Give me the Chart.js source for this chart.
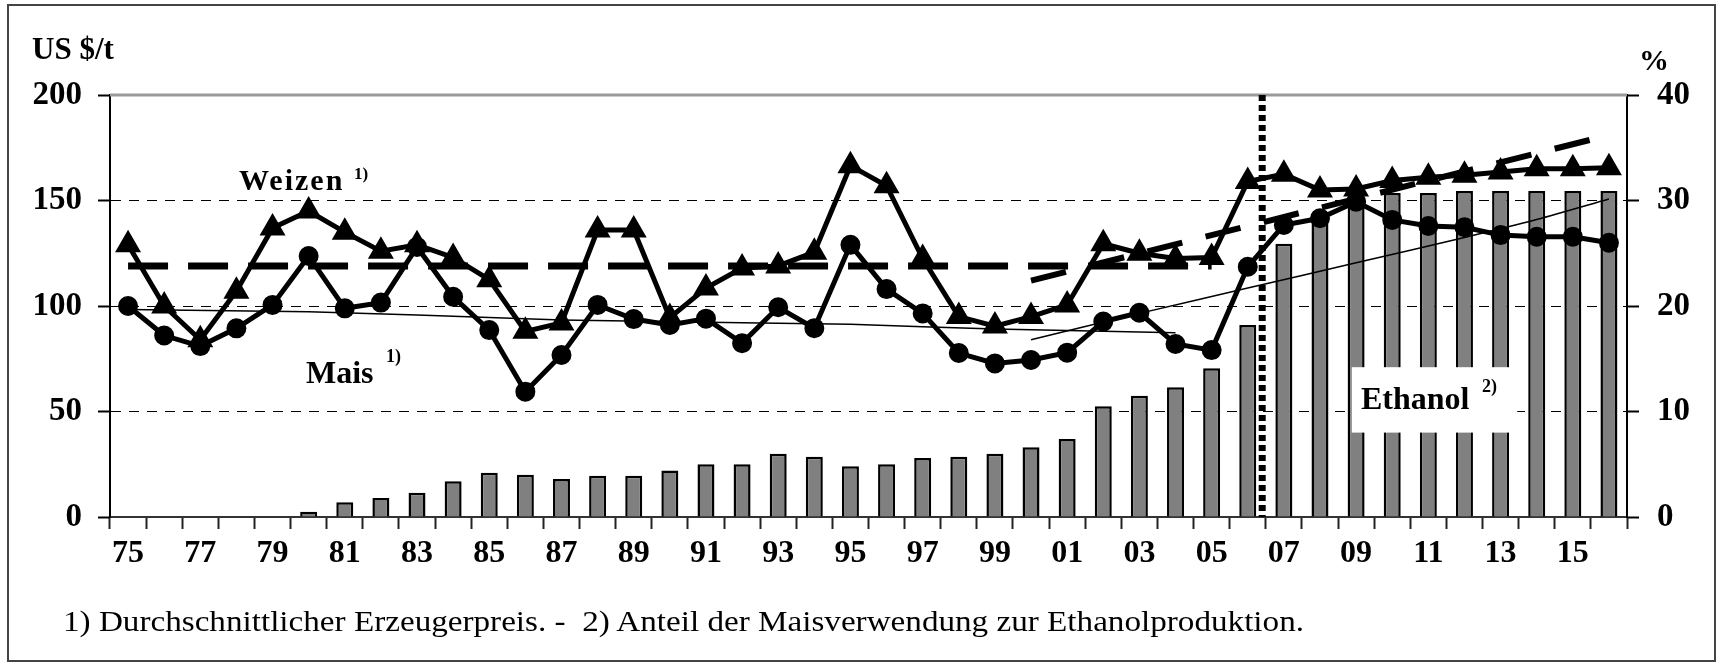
<!DOCTYPE html>
<html>
<head>
<meta charset="utf-8">
<script src="https://cdn.jsdelivr.net/npm/chart.js@4.4.1/dist/chart.umd.min.js"></script>
<style>
    html, body { margin: 0; padding: 0; background: #fff; }
    #wrap { position: relative; width: 1721px; height: 664px; overflow: hidden;
            font-family: "Liberation Serif", "Times New Roman", serif; color: #000; }
    #frame { position: absolute; left: 7px; top: 4px; width: 1705px; height: 654px; border: 2px solid #444; }
    canvas { position: absolute; left: 0; top: 0; }
    .lbl { position: absolute; white-space: nowrap; line-height: 1; font-weight: bold; }
    #note { position: absolute; left: 63px; top: 607px; white-space: nowrap; line-height: 1;
            font-size: 29px; transform-origin: left top; }
</style>
</head>
<body>
<div id="wrap">
    <div id="frame"></div>
    <canvas id="preisChart" width="1721" height="664"></canvas>
    <div class="lbl" style="left:32px;top:33px;font-size:31px;">US $/t</div>
    <div class="lbl" style="left:1639px;top:45px;font-size:30px;">%</div>
    <div class="lbl" style="left:239px;top:165px;font-size:30px;letter-spacing:2px;">Weizen</div>
    <div class="lbl" style="left:354px;top:165px;font-size:17px;">1)</div>
    <div class="lbl" style="left:306px;top:356px;font-size:32px;">Mais</div>
    <div class="lbl" style="left:386px;top:347px;font-size:18px;">1)</div>
    <div class="lbl" style="left:1361px;top:382px;font-size:32px;">Ethanol</div>
    <div class="lbl" style="left:1482px;top:377px;font-size:18px;">2)</div>
    <div id="note">1) Durchschnittlicher Erzeugerpreis. -&nbsp; 2) Anteil der Maisverwendung zur Ethanolproduktion.</div>
</div>
<script>
// Jahre 1975 - 2016
const jahre = ['75', '76', '77', '78', '79', '80', '81', '82', '83', '84',
    '85', '86', '87', '88', '89', '90', '91', '92', '93', '94',
    '95', '96', '97', '98', '99', '00', '01', '02', '03', '04',
    '05', '06', '07', '08', '09', '10', '11', '12', '13', '14', '15', '16'];

// Erzeugerpreise US$/t
const weizen = [129, 100, 84, 107, 137, 145, 135, 126, 129, 123,
    112.5, 88, 92, 136, 136, 94.5, 108.5, 118, 119, 125.5,
    166.5, 157, 122.5, 95, 90.5, 95, 100.5, 129.5, 125, 122.5,
    123, 159, 162.5, 155, 155.5, 159.5, 161, 162, 163.5, 165, 165, 165.5];

const mais = [100, 86, 81, 89.4, 100.5, 123.7, 98.9, 101.6, 128, 104.4,
    88.6, 59.4, 76.8, 100.5, 93.8, 91, 94, 82.4, 99.4, 89.5,
    129, 108, 96.5, 77.7, 72.8, 74.4, 77.9, 92.6, 96.8, 82,
    79.1, 118.6, 138.4, 141.6, 149.4, 140.8, 137.9, 137.3, 133.6, 132.8, 132.8, 130];

// Anteil Ethanol an Maisverwendung in %
const ethanol = [null, null, null, null, null, 0.5, 1.4, 1.8, 2.3, 3.4,
    4.2, 4.0, 3.6, 3.9, 3.9, 4.4, 5.0, 5.0, 6.0, 5.7,
    4.8, 5.0, 5.6, 5.7, 6.0, 6.6, 7.4, 10.5, 11.5, 12.3,
    14.1, 18.2, 25.9, 28.5, 30.2, 30.7, 30.7, 30.9, 30.9, 30.9, 30.9, 30.9];

const weizenMittel = {'75': 119, '05': 119};
const weizenTrend = {'00': 112, '16': 181};
const maisTrendAlt = {'75': 98.3, '80': 97.3, '83': 95.7, '87': 93.4, '92': 92.1,
    '95': 91.3, '97': 90.2, '99': 89.1, '04': 87.3};
const maisTrendNeu = {'00': 84, '03': 96.5, '06': 108.5, '09': 120.5, '12': 132.5,
    '14': 141, '16': 150.7};

const bruchNach = '06';

function reihe(punkte) {
    return jahre.map(j => (j in punkte ? punkte[j] : null));
}

const schrift = '"Liberation Serif", "Times New Roman", serif';

const extras = {
    id: 'extras',
    beforeDatasetsDraw(chart) {
        const {ctx, chartArea: a} = chart;
        ctx.save();
        ctx.strokeStyle = '#9a9a9a';
        ctx.lineWidth = 3;
        ctx.beginPath();
        ctx.moveTo(a.left, a.top);
        ctx.lineTo(a.right, a.top);
        ctx.stroke();
        ctx.restore();
    },
    afterDatasetsDraw(chart) {
        const {ctx, chartArea: a, scales: {x, y2}} = chart;
        const step = x.getPixelForValue(1) - x.getPixelForValue(0);

        // Kasten fuer Beschriftung Ethanol
        const bx1 = x.getPixelForValue(jahre.indexOf('09')) - 0.12 * step;
        const bx2 = x.getPixelForValue(jahre.indexOf('13')) + 0.46 * step;
        const by1 = y2.getPixelForValue(14.2);
        const by2 = y2.getPixelForValue(8.0);
        ctx.save();
        ctx.fillStyle = '#fff';
        ctx.fillRect(bx1, by1, bx2 - bx1, by2 - by1);

        // gepunktete Linie 2006/07
        const px = x.getPixelForValue(jahre.indexOf(bruchNach)) + 0.4 * step;
        ctx.strokeStyle = '#000';
        ctx.lineWidth = 7;
        ctx.setLineDash([6, 4]);
        ctx.beginPath();
        ctx.moveTo(px, a.top);
        ctx.lineTo(px, a.bottom);
        ctx.stroke();
        ctx.restore();
    }
};

const ctx = document.getElementById('preisChart').getContext('2d');
new Chart(ctx, {
    type: 'bar',
    data: {
        labels: jahre,
        datasets: [
            {
                type: 'line',
                label: 'Weizen',
                data: weizen,
                borderColor: '#000',
                borderWidth: 5,
                pointStyle: 'triangle',
                pointRadius: 10,
                pointBackgroundColor: '#000',
                pointBorderColor: '#000',
                tension: 0,
                yAxisID: 'y',
                order: 1
            },
            {
                type: 'line',
                label: 'Mais',
                data: mais,
                borderColor: '#000',
                borderWidth: 5,
                pointStyle: 'circle',
                pointRadius: 7.5,
                pointBackgroundColor: '#000',
                pointBorderColor: '#000',
                tension: 0,
                yAxisID: 'y',
                order: 2
            },
            {
                type: 'line',
                label: 'Weizen Mittel',
                data: reihe(weizenMittel),
                borderColor: '#000',
                borderWidth: 7,
                borderDash: [40, 20],
                borderCapStyle: 'butt',
                pointRadius: 0,
                spanGaps: true,
                yAxisID: 'y',
                order: 3
            },
            {
                type: 'line',
                label: 'Weizen Trend',
                data: reihe(weizenTrend),
                borderColor: '#000',
                borderWidth: 6,
                borderDash: [36, 24],
                pointRadius: 0,
                spanGaps: true,
                yAxisID: 'y',
                order: 3
            },
            {
                type: 'line',
                label: 'Mais Trend alt',
                data: reihe(maisTrendAlt),
                borderColor: '#000',
                borderWidth: 1.5,
                pointRadius: 0,
                spanGaps: true,
                yAxisID: 'y',
                order: 4
            },
            {
                type: 'line',
                label: 'Mais Trend neu',
                data: reihe(maisTrendNeu),
                borderColor: '#000',
                borderWidth: 1.5,
                pointRadius: 0,
                spanGaps: true,
                tension: 0.3,
                yAxisID: 'y',
                order: 4
            },
            {
                type: 'bar',
                label: 'Ethanol',
                data: ethanol,
                backgroundColor: '#808080',
                borderColor: '#000',
                borderWidth: 2.5,
                barPercentage: 0.47,
                categoryPercentage: 1,
                yAxisID: 'y2',
                order: 10
            }
        ]
    },
    options: {
        responsive: false,
        animation: false,
        layout: {
            padding: {top: 95, left: 0, right: 0, bottom: 0}
        },
        plugins: {
            legend: {display: false},
            tooltip: {enabled: false}
        },
        scales: {
            x: {
                offset: true,
                grid: {
                    offset: true,
                    drawOnChartArea: false,
                    drawTicks: true,
                    tickLength: 12,
                    tickColor: '#222',
                    tickWidth: 2
                },
                border: {color: '#333', width: 2},
                ticks: {
                    autoSkip: false,
                    maxRotation: 0,
                    padding: 6,
                    color: '#000',
                    font: {family: schrift, size: 32, weight: 'bold'},
                    callback: (v, i) => (i % 2 === 0 ? jahre[i] : '')
                },
                afterFit: s => { s.height = 147; }
            },
            y: {
                position: 'left',
                min: 0,
                max: 200,
                grid: {
                    color: c => (c.tick && (c.tick.value === 0 || c.tick.value === 200)) ? 'rgba(0,0,0,0)' : '#000',
                    lineWidth: 1,
                    tickLength: 12,
                    tickColor: '#000',
                    tickWidth: 2
                },
                border: {color: '#000', width: 2, dash: [10, 8]},
                ticks: {
                    stepSize: 50,
                    padding: 16,
                    color: '#000',
                    font: {family: schrift, size: 33, weight: 'bold'}
                },
                afterFit: s => { s.width = 110; }
            },
            y2: {
                position: 'right',
                min: 0,
                max: 40,
                grid: {
                    drawOnChartArea: false,
                    tickLength: 12,
                    tickColor: '#000',
                    tickWidth: 2
                },
                border: {color: '#000', width: 2},
                ticks: {
                    stepSize: 10,
                    padding: 18,
                    color: '#000',
                    font: {family: schrift, size: 33, weight: 'bold'}
                },
                afterFit: s => { s.width = 94; }
            }
        }
    },
    plugins: [extras]
});

// Fussnote auf die Breite der Vorlage bringen
const note = document.getElementById('note');
const w = note.getBoundingClientRect().width;
note.style.transform = 'scaleX(' + (1241 / w) + ')';
</script>
</body>
</html>
